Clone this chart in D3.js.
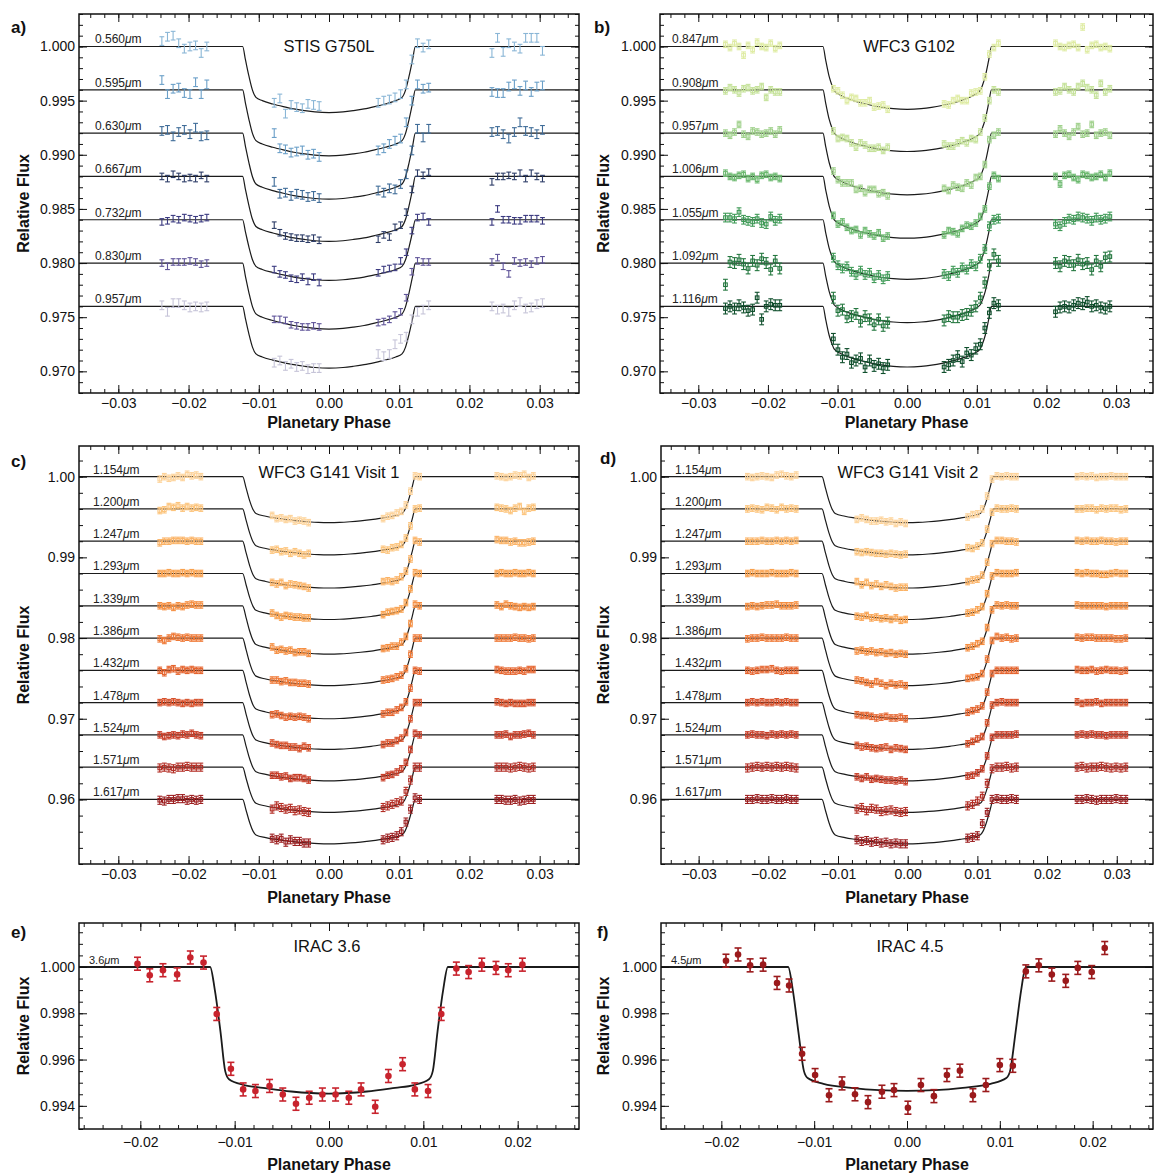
<!DOCTYPE html>
<html><head><meta charset="utf-8">
<script src="https://cdn.jsdelivr.net/npm/d3@7"></script>
<style>body{margin:0;background:#fff}svg{display:block}text{font-family:"Liberation Sans",Arial,Helvetica,sans-serif}</style>
</head><body><svg id="chart" width="1159" height="1173"></svg>
<script>
// ---------------- DATA ----------------
// tick values
const xTicksWide = [-0.03,-0.02,-0.01,0,0.01,0.02,0.03];
const yTicksAB = [0.970,0.975,0.980,0.985,0.990,0.995,1.000];
const yTicksCD = [0.96,0.97,0.98,0.99,1.00];
const xTicksEF = [-0.02,-0.01,0,0.01,0.02];
const yTicksEF = [0.994,0.996,0.998,1.000];

// panel a : STIS G750L
const labelsA = ["0.560","0.595","0.630","0.667","0.732","0.830","0.957"];
const baseA = [1.000,0.996,0.992,0.988,0.984,0.980,0.976];
const depthA = [61,61,61,60,56,61,57];          // 1e-4
const errA = [4,4,4,3,3,3,4];                    // 1e-4
const colorsA = ["#8ab6d6","#6a9fc8","#3f6c98","#2b3b66","#3b3a80","#5f5499","#c6c4d8"];
const phaseA = [-0.0238,-0.0230,-0.0222,-0.0214,-0.0206,-0.0198,-0.0190,-0.0182,-0.0174,
 -0.0078,-0.0070,-0.0062,-0.0054,-0.0046,-0.0038,-0.0030,-0.0022,-0.0014,
 0.0070,0.0078,0.0086,0.0094,0.0102,0.0110,0.0118,0.0126,0.0134,0.0142,
 0.0232,0.0240,0.0248,0.0256,0.0264,0.0272,0.0280,0.0288,0.0296,0.0304];
const devA = [ // flux - baseline, 1e-4
 [5,9,10,3,-2,0,1,-6,0, -52,-48,-62,-54,-56,-57,-53,-54,-55, -52,-50,-49,-47,-44,-35,-12,3,-1,2, -6,8,-5,3,0,-2,8,8,8,-4],
 [9,-4,1,2,-3,-4,7,-4,5, -40,-54,-55,-58,-57,-56,-60,-59,-62, -56,-54,-50,-47,-45,-30,-10,5,1,2, -2,-3,-3,3,5,-1,4,-2,3,4],
 [2,3,-3,1,3,-1,5,-3,-2, -45,-56,-55,-58,-56,-57,-59,-58,-60, -53,-55,-51,-52,-47,-38,-16,4,-4,4, 1,2,-1,-5,1,10,2,1,-1,3],
 [0,-2,2,0,-2,-1,-2,1,-2, -45,-52,-55,-56,-57,-57,-58,-57,-59, -58,-54,-56,-47,-45,-33,-12,3,1,4, -5,0,0,1,0,3,-2,3,0,-2],
 [-2,-1,1,0,2,1,0,1,2, -46,-50,-51,-54,-55,-53,-57,-53,-58, -49,-46,-45,-44,-38,-30,-10,2,3,-2, -2,10,0,0,-1,-1,1,1,1,-1],
 [0,-3,1,1,1,2,1,-1,0, -52,-52,-53,-57,-58,-59,-59,-58,-59, -55,-54,-52,-48,-45,-32,-8,2,1,1, 1,5,-3,-10,2,0,1,-1,2,3],
 [1,-5,3,3,1,-1,0,-1,0, -52,-50,-55,-53,-56,-55,-58,-57,-57, -44,-46,-44,-35,-30,-28,-12,-5,-3,1, 0,-3,-2,-5,1,4,-2,-1,2,3]
];

// panel b : WFC3 G102
const labelsB = ["0.847","0.908","0.957","1.006","1.055","1.092","1.116"];
const baseB = [1.000,0.996,0.992,0.988,0.984,0.980,0.976];
const depthB = [58,57,57,57,55,55,56];
const errB = [3,3,3,3,4,5,5];
const colorsB = ["#dfeca4","#c5e29a","#a0d18c","#6cb96f","#3f9a57","#24773f","#0f4f2c"];
const phaseB = [-0.0261,-0.02545,-0.0248,-0.02415,-0.0235,-0.02285,-0.0222,-0.02155,-0.0209,-0.02025,-0.0196,-0.01895,-0.0183,
 -0.0106,-0.00995,-0.0093,-0.00865,-0.0080,-0.00735,-0.0067,-0.00605,-0.0054,-0.00475,-0.0041,-0.00345,-0.0028,
 0.0053,0.00595,0.0066,0.00725,0.0079,0.00855,0.0092,0.00985,0.0105,0.01115,0.0118,0.01245,0.0131,
 0.0213,0.02195,0.0226,0.02325,0.0239,0.02455,0.0252,0.02585,0.0265,0.02715,0.0278,0.02845,0.0291];
const devB = [
 [2,-1,3,0,-8,1,-3,4,0,-1,3,-2,1, -39,-41,-45,-50,-47,-48,-52,-52,-50,-56,-55,-54,-58, -53,-54,-50,-48,-50,-50,-43,-42,-41,-28,-7,-1,3, 3,0,-1,1,2,-1,18,-3,1,2,-1,0,-2],
 [-1,2,0,-3,1,2,-1,0,3,-7,0,-2,-2, -38,-45,-44,-45,-49,-53,-49,-51,-54,-54,-53,-56,-53, -50,-52,-52,-49,-47,-49,-45,-46,-39,-26,-10,0,-2, -2,-1,3,0,-2,3,6,2,0,-5,6,-2,1],
 [0,-2,1,8,-1,-3,2,1,-1,0,2,-1,3, -35,-43,-46,-46,-46,-52,-51,-55,-52,-52,-56,-55,-58, -51,-53,-48,-50,-51,-46,-48,-41,-40,-29,-6,-2,1, -1,4,0,-3,1,6,-1,0,8,-2,0,1,-2],
 [3,0,-1,1,2,-2,0,-3,1,2,-1,0,-2, -36,-44,-42,-47,-50,-49,-54,-50,-53,-55,-52,-57,-55, -54,-50,-51,-53,-48,-45,-46,-43,-37,-30,-9,1,-2, 0,-7,1,2,-1,-3,2,1,-1,0,2,-1,3],
 [2,2,1,7,0,-1,-2,1,-3,-4,3,-1,1, -35,-42,-45,-43,-48,-51,-47,-51,-49,-54,-51,-55,-52, -50,-52,-47,-49,-44,-46,-41,-43,-36,-27,-6,0,1, -4,-6,-2,1,0,3,2,1,-1,2,0,1,3],
 [-20,1,0,3,-1,-5,2,-2,4,0,-6,2,-5, -32,-44,-43,-50,-49,-47,-54,-49,-52,-57,-52,-58,-55, -53,-49,-50,-50,-48,-47,-44,-40,-32,-18,-2,8,2, 0,-3,2,1,-2,3,-1,0,-6,2,-3,5,6],
 [-2,0,-2,1,-1,-4,-3,8,-12,0,2,1,1, -30,-40,-47,-44,-52,-50,-48,-56,-50,-55,-53,-57,-54, -56,-54,-50,-46,-51,-43,-45,-39,-35,-20,-6,3,1, -5,-1,0,-1,1,3,2,4,0,1,-1,-2,0]
];

// panels c, d : WFC3 G141
const labelsCD = ["1.154","1.200","1.247","1.293","1.339","1.386","1.432","1.478","1.524","1.571","1.617"];
const baseCD = [1.000,0.996,0.992,0.988,0.984,0.980,0.976,0.972,0.968,0.964,0.960];
const depthCD = [57,57,58,57,60,59,60,58,57,56,55];
const errCD = [4,4,4,4,4,4,4,4,4,5,5];
const colorsCD = ["#fdd39a","#fcc47c","#fbb366","#f9a24f","#f58e40","#ef7936","#e5652f","#d8512b","#c83e28","#b32d24","#9c1f20"];
const phaseC = [-0.0241,-0.02345,-0.0228,-0.02215,-0.0215,-0.02085,-0.0202,-0.01955,-0.0189,-0.01825,
 -0.0081,-0.00745,-0.0068,-0.00615,-0.0055,-0.00485,-0.0042,-0.00355,-0.0029,
 0.0077,0.00835,0.0090,0.00965,0.0103,0.01095,0.0116,0.01225,0.0129,
 0.0239,0.02455,0.0252,0.02585,0.0265,0.02715,0.0278,0.02845,0.0291];
const devC = [
 [-3,0,-2,-1,1,-1,3,1,2,0, -48,-52,-51,-53,-52,-55,-54,-55,-57, -52,-49,-48,-45,-43,-35,-18,1,0, 1,0,-1,0,2,1,3,-1,1],
 [-2,-1,3,2,4,1,3,1,2,1, -51,-50,-53,-52,-55,-53,-55,-57,-55, -50,-51,-48,-47,-44,-36,-21,0,1, 2,1,0,-2,1,3,-3,1,2],
 [-2,0,0,1,1,1,0,1,0,0, -51,-53,-51,-55,-53,-54,-55,-56,-58, -50,-49,-50,-48,-44,-37,-22,1,-1, 2,1,1,-1,0,-2,-2,-1,0],
 [0,0,1,0,0,1,0,1,0,0, -49,-52,-54,-52,-53,-54,-54,-55,-55, -51,-48,-47,-46,-44,-36,-19,1,0, 0,1,0,0,1,0,0,1,0],
 [0,-1,0,-2,0,-1,1,2,1,1, -51,-55,-54,-56,-55,-58,-57,-57,-59, -53,-52,-50,-50,-45,-38,-22,2,0, 1,-1,2,0,-1,-2,-1,-2,-1],
 [-1,-3,0,2,1,0,1,0,0,0, -52,-52,-54,-53,-55,-55,-56,-56,-57, -52,-51,-50,-48,-46,-38,-20,0,0, 0,0,0,0,1,0,0,-1,0],
 [0,-3,1,2,-1,1,0,1,0,0, -55,-54,-56,-58,-57,-58,-57,-58,-60, -54,-52,-52,-49,-46,-39,-22,0,-1, 1,0,-1,-1,-1,0,-1,1,1],
 [0,1,0,1,0,-1,0,-1,0,0, -50,-52,-53,-53,-55,-55,-57,-54,-56, -52,-50,-50,-47,-44,-37,-20,0,0, 1,0,-1,0,-1,-1,-1,0,0],
 [0,-2,-1,0,-1,1,0,2,0,-1, -50,-50,-52,-51,-54,-53,-53,-54,-56, -53,-50,-49,-46,-42,-34,-18,2,0, 0,0,1,-2,0,0,1,2,0],
 [-1,0,-1,-2,0,0,1,0,0,0, -52,-48,-50,-52,-51,-54,-53,-55,-56, -50,-48,-46,-44,-42,-30,-16,0,0, 0,0,0,-1,0,1,0,-1,0],
 [-1,-2,0,0,1,1,-1,0,-1,0, -48,-50,-48,-53,-50,-52,-52,-54,-54, -50,-48,-47,-45,-40,-28,-12,2,0, 0,0,-1,-1,0,-2,-1,0,0]
];
const phaseD = [-0.0230,-0.0223,-0.0216,-0.0209,-0.0202,-0.0195,-0.0188,-0.0181,-0.0174,-0.0167,-0.0160,
 -0.0073,-0.0066,-0.0059,-0.0052,-0.0045,-0.0038,-0.0031,-0.0024,-0.0017,-0.0010,-0.0003,
 0.0086,0.0093,0.0100,0.0107,0.0114,0.0121,0.0128,0.0135,0.0142,0.0149,0.0156,
 0.0243,0.0250,0.0257,0.0264,0.0271,0.0278,0.0285,0.0292,0.0299,0.0306,0.0313];
const devD = [
 [0,-1,0,1,0,-1,2,3,1,0,2, -53,-51,-53,-55,-55,-54,-56,-55,-58,-56,-58, -50,-47,-46,-40,-24,-3,1,0,1,0,0, 0,1,0,1,-1,0,0,1,0,0,0],
 [0,1,0,-1,2,1,-1,2,0,1,0, -53,-54,-53,-54,-55,-55,-56,-55,-56,-57,-56, -48,-49,-46,-42,-25,-4,1,0,0,1,0, 0,0,1,1,-1,1,0,1,1,-1,0],
 [0,0,0,1,0,0,1,0,1,0,1, -50,-54,-51,-55,-53,-56,-54,-56,-58,-57,-57, -50,-48,-47,-42,-26,-3,1,1,0,0,-1, 1,0,1,0,0,1,0,0,-1,0,0],
 [0,1,0,0,0,1,0,0,0,1,0, -53,-54,-52,-55,-54,-56,-55,-57,-55,-58,-57, -49,-48,-45,-41,-25,-3,1,0,0,0,1, 1,0,1,0,0,-1,-1,0,1,0,0],
 [-1,0,-1,0,1,1,2,0,0,0,1, -56,-55,-57,-56,-58,-57,-59,-58,-60,-59,-60, -52,-50,-47,-44,-27,-5,1,0,1,0,0, 1,0,0,0,0,0,-1,0,0,0,0],
 [-1,0,0,1,0,0,0,0,1,0,0, -52,-53,-55,-57,-54,-56,-59,-56,-58,-57,-59, -50,-49,-48,-44,-26,-3,2,0,1,-1,0, 1,0,1,1,0,0,0,0,-1,-1,0],
 [0,-1,0,1,1,2,0,-1,0,0,0, -55,-56,-56,-57,-59,-58,-57,-59,-59,-58,-60, -52,-50,-48,-44,-27,-4,0,0,0,0,0, 1,0,0,1,-1,0,1,0,0,-1,0],
 [0,1,0,1,0,0,1,0,1,0,0, -53,-55,-54,-56,-57,-56,-55,-58,-56,-57,-58, -51,-48,-45,-42,-25,-3,0,1,0,0,0, 1,-1,0,0,1,-1,0,0,0,0,0],
 [0,1,0,0,-1,1,0,1,0,1,0, -52,-54,-52,-55,-54,-55,-56,-56,-57,-56,-58, -51,-50,-47,-42,-26,-3,0,0,0,0,1, 0,1,0,1,0,0,-1,0,0,0,0],
 [-1,0,1,0,1,0,1,0,1,0,-1, -52,-50,-54,-51,-52,-55,-54,-53,-55,-56,-55, -48,-46,-42,-36,-20,-2,0,0,1,-1,0, 0,1,-1,0,0,1,0,-1,0,-1,0],
 [0,0,1,0,0,1,0,0,1,0,0, -50,-52,-51,-53,-52,-54,-53,-55,-54,-55,-55, -48,-47,-45,-30,-16,0,1,0,0,1,0, 0,0,1,0,-1,0,0,0,1,0,0]
];

// transit model shapes (|phase|, fraction of central depth)
const tplAPhase = [0,0.0020,0.0035,0.0050,0.0065,0.0080,0.0095,0.0104,0.0109,0.0114,0.0119,0.0123];
const tplAFrac  = [1,0.99,0.97,0.945,0.91,0.87,0.82,0.77,0.66,0.45,0.20,0];
const tplBPhase = [0,0.0020,0.0035,0.0050,0.0065,0.0080,0.0095,0.0105,0.0108,0.0112,0.0117,0.0121];
const tplBFrac  = [1,0.99,0.97,0.94,0.90,0.85,0.78,0.70,0.62,0.48,0.22,0];
const tplCPhase = [0,0.0015,0.0030,0.0045,0.0060,0.0075,0.0090,0.0104,0.0108,0.0113,0.0118,0.0123];
const tplCFrac  = [1,0.995,0.98,0.96,0.935,0.90,0.86,0.80,0.72,0.52,0.25,0];

// panel e : IRAC 3.6
const phaseE = [-0.0203,-0.0190,-0.0176,-0.0161,-0.0147,-0.0133,-0.0119,-0.0104,-0.0091,-0.0078,-0.0063,-0.0049,-0.0035,-0.0021,-0.0007,0.0007,0.0021,0.0034,0.0049,0.0063,0.0078,0.0091,0.0105,0.0119,0.0135,0.0148,0.0162,0.0177,0.0190,0.0205];
const fluxE = [1.00014,0.99964,0.99986,0.99968,1.00041,1.00019,0.99797,0.99560,0.99471,0.99464,0.99486,0.99449,0.99409,0.99435,0.99449,0.99449,0.99435,0.99471,0.99396,0.99529,0.99580,0.99471,0.99464,0.99797,0.99993,0.99978,1.00010,0.99996,0.99986,1.00010];
const modelEPhase = [-0.0265,-0.0126,-0.0121,-0.0115,-0.0110,-0.0106,-0.009,-0.007,-0.004,0,0.004,0.007,0.009,0.0106,0.0110,0.0115,0.0121,0.0126,0.0265];
const modelEFlux  = [1,1,0.9990,0.9972,0.9955,0.99515,0.9949,0.99478,0.99462,0.99453,0.99462,0.99478,0.9949,0.99515,0.9955,0.9972,0.9990,1,1];

// panel f : IRAC 4.5
const phaseF = [-0.0195,-0.0182,-0.0169,-0.0155,-0.0140,-0.0127,-0.0113,-0.0099,-0.0084,-0.0070,-0.0056,-0.0042,-0.0027,-0.0014,0.0001,0.0015,0.0029,0.0043,0.0057,0.0071,0.0085,0.0100,0.0114,0.0128,0.0142,0.0156,0.0171,0.0184,0.0199,0.0213];
const fluxF = [1.00027,1.00054,1.00007,1.00010,0.99931,0.99920,0.99625,0.99533,0.99446,0.99497,0.99450,0.99416,0.99461,0.99468,0.99392,0.99490,0.99442,0.99533,0.99552,0.99446,0.99490,0.99576,0.99573,0.99981,1.00007,0.99967,0.99940,0.99996,0.99978,1.00082];
const modelFPhase = [-0.0265,-0.0128,-0.0123,-0.0117,-0.0111,-0.0107,-0.009,-0.006,-0.003,0,0.003,0.006,0.009,0.0107,0.0111,0.0117,0.0123,0.0128,0.0265];
const modelFFlux  = [1,1,0.9990,0.9972,0.9955,0.9952,0.99495,0.99478,0.99468,0.99465,0.99468,0.99478,0.99495,0.9952,0.9955,0.9972,0.9990,1,1];

// ---------------- DRAWING ----------------
const svg = d3.select("#chart");
svg.append("rect").attr("width",1159).attr("height",1173).attr("fill","#fff");
const defs = svg.append("defs");

function symModel(tplP, tplF, depth, base, xDom){
  const pts = [[xDom[0], base]];
  for (let i = tplP.length-1; i >= 1; i--) pts.push([-tplP[i], base - depth*1e-4*tplF[i]]);
  pts.push([0, base - depth*1e-4*tplF[0]]);
  for (let i = 1; i < tplP.length; i++) pts.push([tplP[i], base - depth*1e-4*tplF[i]]);
  pts.push([xDom[1], base]);
  return pts;
}

function buildSeries(labels, bases, depths, errs, colors, phases, devs, tplP, tplF, xDom){
  return labels.map((lab,i)=>({
    label: lab, base: bases[i], color: colors[i], err: errs[i]*1e-4,
    pts: phases.map((p,j)=>[p, bases[i] + devs[i][j]*1e-4]),
    model: symModel(tplP, tplF, depths[i], bases[i], xDom)
  }));
}

function minorTicks(dom, step){
  const a = Math.ceil(dom[0]/step - 1e-9), b = Math.floor(dom[1]/step + 1e-9);
  return d3.range(a, b+1).map(k => +(k*step).toFixed(6));
}

function drawPanel(P){
  const x = d3.scaleLinear().domain(P.xDom).range([P.L, P.R]);
  const y = d3.scaleLinear().domain(P.yDom).range([P.B, P.T]);
  const cid = "clip" + P.key;
  defs.append("clipPath").attr("id", cid).append("rect")
    .attr("x", P.L).attr("y", P.T).attr("width", P.R-P.L).attr("height", P.B-P.T);
  const plot = svg.append("g").attr("clip-path", `url(#${cid})`);
  const line = d3.line().x(d=>x(d[0])).y(d=>y(d[1])).curve(d3.curveMonotoneX);

  // channel labels
  P.series.forEach(s => {
    if (!s.label) return;
    const t = svg.append("text").attr("x", P.L + P.labDx).attr("y", y(s.base) - 3)
      .attr("font-size", P.labFs).attr("fill", "#222");
    t.append("tspan").text(s.label);
    t.append("tspan").attr("font-style","italic").text("\u03bc");
    t.append("tspan").text("m");
  });
  // model curves
  P.series.forEach(s => {
    plot.append("path").attr("d", line(s.model)).attr("fill","none")
      .attr("stroke","#1b1b1b").attr("stroke-width", P.lineW);
  });
  // data
  P.series.forEach(s => {
    const g = plot.append("g").attr("stroke", s.color).attr("stroke-width", P.ebW).attr("fill","none");
    s.pts.forEach(pt => {
      const cx = x(pt[0]), y1 = y(pt[1]-s.err), y2 = y(pt[1]+s.err), cy = y(pt[1]);
      g.append("line").attr("x1",cx).attr("x2",cx).attr("y1",y1).attr("y2",y2);
      g.append("line").attr("x1",cx-P.cap).attr("x2",cx+P.cap).attr("y1",y1).attr("y2",y1);
      g.append("line").attr("x1",cx-P.cap).attr("x2",cx+P.cap).attr("y1",y2).attr("y2",y2);
      if (P.marker === "square") {
        g.append("rect").attr("x",cx-1.8).attr("y",cy-1.8).attr("width",3.6).attr("height",3.6);
      } else if (P.marker === "dot") {
        g.append("circle").attr("cx",cx).attr("cy",cy).attr("r",3.3).attr("fill",s.color).attr("stroke","none");
      }
    });
  });

  // axes
  const styleAxis = sel => {
    sel.select(".domain").remove();
    sel.selectAll("line").attr("stroke","#111").attr("stroke-width",1);
    sel.selectAll("text").attr("font-size",14).attr("fill","#111")
      .attr("font-family",'"Liberation Sans",Arial,Helvetica,sans-serif');
  };
  const mx = minorTicks(P.xDom, P.xMinor), my = minorTicks(P.yDom, P.yMinor);
  const none = () => "";
  // major
  svg.append("g").attr("transform",`translate(0,${P.B})`)
    .call(d3.axisBottom(x).tickValues(P.xTicks).tickFormat(d3.format(P.xFmt)).tickSizeInner(-8).tickSizeOuter(0).tickPadding(P.xPad)).call(styleAxis);
  svg.append("g").attr("transform",`translate(0,${P.T})`)
    .call(d3.axisTop(x).tickValues(P.xTicks).tickFormat(none).tickSizeInner(-8).tickSizeOuter(0)).call(styleAxis);
  svg.append("g").attr("transform",`translate(${P.L},0)`)
    .call(d3.axisLeft(y).tickValues(P.yTicks).tickFormat(d3.format(P.yFmt)).tickSizeInner(-8).tickSizeOuter(0).tickPadding(4)).call(styleAxis);
  svg.append("g").attr("transform",`translate(${P.R},0)`)
    .call(d3.axisRight(y).tickValues(P.yTicks).tickFormat(none).tickSizeInner(-8).tickSizeOuter(0)).call(styleAxis);
  // minor
  svg.append("g").attr("transform",`translate(0,${P.B})`).call(d3.axisBottom(x).tickValues(mx).tickFormat(none).tickSizeInner(-4).tickSizeOuter(0)).call(styleAxis);
  svg.append("g").attr("transform",`translate(0,${P.T})`).call(d3.axisTop(x).tickValues(mx).tickFormat(none).tickSizeInner(-4).tickSizeOuter(0)).call(styleAxis);
  svg.append("g").attr("transform",`translate(${P.L},0)`).call(d3.axisLeft(y).tickValues(my).tickFormat(none).tickSizeInner(-4).tickSizeOuter(0)).call(styleAxis);
  svg.append("g").attr("transform",`translate(${P.R},0)`).call(d3.axisRight(y).tickValues(my).tickFormat(none).tickSizeInner(-4).tickSizeOuter(0)).call(styleAxis);

  // frame
  svg.append("rect").attr("x",P.L).attr("y",P.T).attr("width",P.R-P.L).attr("height",P.B-P.T)
    .attr("fill","none").attr("stroke","#111").attr("stroke-width",1.5);

  // titles
  svg.append("text").attr("x", P.titleX).attr("y", P.titleY).attr("text-anchor","middle")
    .attr("font-size",16.5).attr("fill","#111").text(P.title);
  svg.append("text").attr("x", P.letterX).attr("y", P.letterY).attr("font-size",17)
    .attr("font-weight","bold").attr("fill","#111").text(P.letter);
  svg.append("text").attr("x",(P.L+P.R)/2).attr("y",P.xTitleY).attr("text-anchor","middle")
    .attr("font-size",16).attr("font-weight","bold").attr("fill","#111").text("Planetary Phase");
  svg.append("text").attr("transform",`translate(${P.yTitleX},${(P.T+P.B)/2}) rotate(-90)`)
    .attr("text-anchor","middle").attr("font-size",16).attr("font-weight","bold").attr("fill","#111").text("Relative Flux");
}

const common = {lineW:1.2, ebW:1.1, cap:2.4, labDx:16, labFs:12, xPad:5, xMinor:0.002};

const domA = [-0.0356,0.0356], domB = [-0.0355,0.0353], domC = [-0.0356,0.0356], domD = [-0.0354,0.0352];

drawPanel(Object.assign({}, common, {key:"a", L:79,R:579,T:14,B:393, xDom:domA, yDom:[0.968,1.003],
  xTicks:xTicksWide, yTicks:yTicksAB, xFmt:".2f", yFmt:".3f", yMinor:0.001, marker:"none",
  series: buildSeries(labelsA, baseA, depthA, errA, colorsA, phaseA, devA, tplAPhase, tplAFrac, domA),
  title:"STIS G750L", titleX:329, titleY:52, letter:"a)", letterX:11, letterY:33, xTitleY:428, yTitleX:29}));

drawPanel(Object.assign({}, common, {key:"b", L:660,R:1153,T:14,B:393, xDom:domB, yDom:[0.968,1.003],
  xTicks:xTicksWide, yTicks:yTicksAB, xFmt:".2f", yFmt:".3f", yMinor:0.001, marker:"square", labDx:12,
  series: buildSeries(labelsB, baseB, depthB, errB, colorsB, phaseB, devB, tplBPhase, tplBFrac, domB),
  title:"WFC3 G102", titleX:909, titleY:52, letter:"b)", letterX:594, letterY:33, xTitleY:428, yTitleX:609}));

drawPanel(Object.assign({}, common, {key:"c", L:79,R:579,T:446,B:864, xDom:domC, yDom:[0.952,1.0038],
  xTicks:xTicksWide, yTicks:yTicksCD, xFmt:".2f", yFmt:".2f", yMinor:0.002, marker:"square", labDx:14,
  series: buildSeries(labelsCD, baseCD, depthCD, errCD, colorsCD, phaseC, devC, tplCPhase, tplCFrac, domC),
  title:"WFC3 G141 Visit 1", titleX:329, titleY:478, letter:"c)", letterX:11, letterY:467, xTitleY:903, yTitleX:29}));

drawPanel(Object.assign({}, common, {key:"d", L:661,R:1153,T:446,B:864, xDom:domD, yDom:[0.952,1.0038],
  xTicks:xTicksWide, yTicks:yTicksCD, xFmt:".2f", yFmt:".2f", yMinor:0.002, marker:"square", labDx:14,
  series: buildSeries(labelsCD, baseCD, depthCD, errCD, colorsCD, phaseD, devD, tplCPhase, tplCFrac, domD),
  title:"WFC3 G141 Visit 2", titleX:908, titleY:478, letter:"d)", letterX:600, letterY:464, xTitleY:903, yTitleX:609}));

const domEF = [-0.0265,0.0265];
drawPanel(Object.assign({}, common, {key:"e", L:79,R:579,T:923,B:1129, xDom:domEF, yDom:[0.993,1.0019],
  xTicks:xTicksEF, yTicks:yTicksEF, xFmt:".2f", yFmt:".3f", yMinor:0.0005, marker:"dot", ebW:1.6, cap:3.5, labDx:10, labFs:11, xPad:8,
  series:[{label:"3.6", base:1.0, color:"#c8232d", err:0.00028, pts:phaseE.map((p,i)=>[p,fluxE[i]]), model:modelEPhase.map((p,i)=>[p,modelEFlux[i]])}],
  lineW:1.8, title:"IRAC 3.6", titleX:327, titleY:952, letter:"e)", letterX:11, letterY:938, xTitleY:1170, yTitleX:29}));

drawPanel(Object.assign({}, common, {key:"f", L:661,R:1153,T:923,B:1129, xDom:domEF, yDom:[0.993,1.0019],
  xTicks:xTicksEF, yTicks:yTicksEF, xFmt:".2f", yFmt:".3f", yMinor:0.0005, marker:"dot", ebW:1.6, cap:3.5, labDx:10, labFs:11, xPad:8,
  series:[{label:"4.5", base:1.0, color:"#9b1a1c", err:0.00028, pts:phaseF.map((p,i)=>[p,fluxF[i]]), model:modelFPhase.map((p,i)=>[p,modelFFlux[i]])}],
  lineW:1.8, title:"IRAC 4.5", titleX:910, titleY:952, letter:"f)", letterX:597, letterY:938, xTitleY:1170, yTitleX:609}));
</script></body></html>
